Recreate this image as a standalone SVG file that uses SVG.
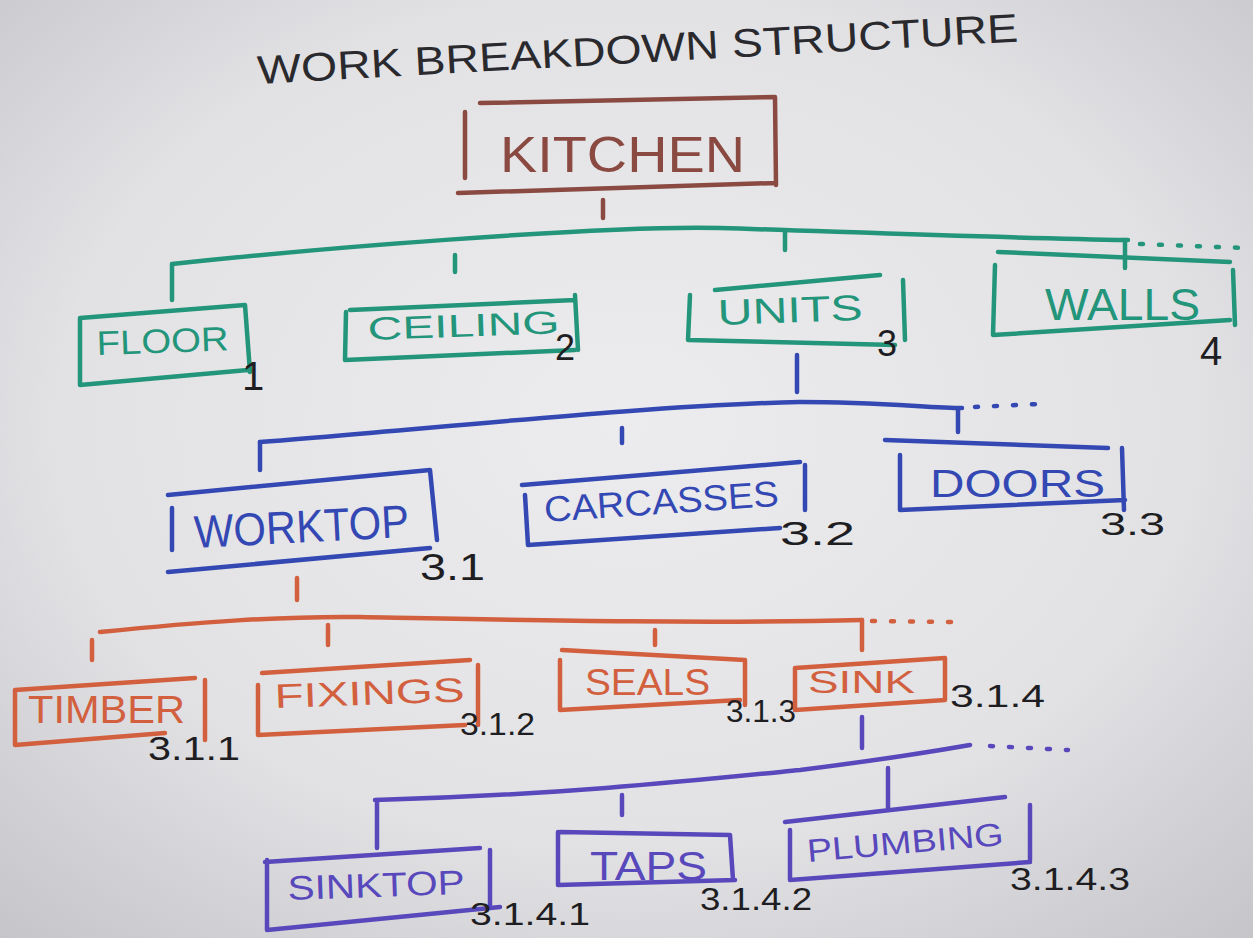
<svg xmlns="http://www.w3.org/2000/svg" width="1253" height="938" viewBox="0 0 1253 938">
<defs>
<radialGradient id="bg" cx="50%" cy="45%" r="75%">
<stop offset="0" stop-color="#ececee"/>
<stop offset="0.6" stop-color="#e2e2e5"/>
<stop offset="1" stop-color="#c4c4c9"/>
</radialGradient>
<style>
.s{fill:none;stroke-width:4.5;stroke-linecap:round;stroke-linejoin:round}
.k{stroke:#8a4a42}.g{stroke:#23957a}.b{stroke:#3448b4}.o{stroke:#d2603e}.p{stroke:#5848bc}
.dot{stroke-dasharray:3 16}
.t{font-family:"Liberation Sans","DejaVu Sans",sans-serif}
.tk{fill:#8a4a42}.tg{fill:#23957a}.tb{fill:#3448b4}.to{fill:#d2603e}.tp{fill:#5848bc}
.n{fill:#1e1e22;font-family:"Liberation Sans","DejaVu Sans",sans-serif}
</style>
</defs>
<rect width="1253" height="938" fill="url(#bg)"/>
<text class="t" fill="#2a2a2e" font-size="40" x="258" y="84" textLength="762" lengthAdjust="spacingAndGlyphs" transform="rotate(-3.2 258 84)">WORK BREAKDOWN STRUCTURE</text>

<g id="connectors">
<path class="s k" d="M603 200 L603 218"/>
<path class="s g" d="M172 264 C300 250 600 225 720 228 C850 232 1000 238 1128 240"/>
<path class="s g dot" d="M1140 244 L1245 248"/>
<path class="s g" d="M172 265 L172 300 M455 255 L455 272 M785 232 L785 250 M1125 240 L1125 268"/>
<path class="s b" d="M797 355 L797 392"/>
<path class="s b" d="M260 442 C420 430 650 405 800 402 C880 402 930 408 962 408"/>
<path class="s b dot" d="M975 407 L1040 404"/>
<path class="s b" d="M260 442 L260 470 M622 428 L622 443 M958 410 L958 432"/>
<path class="s o" d="M297 578 L297 600"/>
<path class="s o" d="M100 632 C200 622 280 616 360 617 C520 620 700 624 862 620"/>
<path class="s o dot" d="M872 621 L955 622"/>
<path class="s o" d="M92 640 L92 660 M328 625 L328 645 M655 630 L655 645 M862 620 L862 650"/>
<path class="s p" d="M862 717 L862 748"/>
<path class="s p" d="M375 800 C560 795 700 780 800 770 C880 760 930 752 970 745"/>
<path class="s p dot" d="M990 746 L1068 750"/>
<path class="s p" d="M377 800 L377 848 M622 795 L622 815 M888 768 L888 808"/>
</g>

<g id="kitchen">
<path class="s k" d="M480 103 L775 97 L776 185 M465 112 L465 178 M458 193 L775 183"/>
<text class="t tk" font-size="50" x="500" y="172" textLength="245" lengthAdjust="spacingAndGlyphs">KITCHEN</text>
</g>

<g id="floor">
<path class="s g" d="M80 318 L245 305 L250 372 M80 318 L80 385 L248 370"/>
<text class="t tg" font-size="34" x="97" y="355" textLength="132" lengthAdjust="spacingAndGlyphs" transform="rotate(-2 97 355)">FLOOR</text>
<text class="n" font-size="40" x="242" y="390">1</text>
</g>

<g id="ceiling">
<path class="s g" d="M350 310 L575 300 M575 295 L578 350 M346 312 L345 360 L575 350"/>
<text class="t tg" font-size="32" x="368" y="340" textLength="192" lengthAdjust="spacingAndGlyphs" transform="rotate(-2 368 340)">CEILING</text>
<text class="n" font-size="36" x="555" y="360">2</text>
</g>

<g id="units">
<path class="s g" d="M715 290 L880 275 M903 280 L905 340 M690 295 L688 340 L895 345"/>
<text class="t tg" font-size="36" x="718" y="325" textLength="145" lengthAdjust="spacingAndGlyphs" transform="rotate(-2 718 325)">UNITS</text>
<text class="n" font-size="36" x="877" y="356">3</text>
</g>

<g id="walls">
<path class="s g" d="M998 252 L1230 262 M1233 270 L1235 325 M995 265 L993 335 L1230 320"/>
<text class="t tg" font-size="44" x="1045" y="320" textLength="155" lengthAdjust="spacingAndGlyphs">WALLS</text>
<text class="n" font-size="40" x="1200" y="365">4</text>
</g>

<g id="worktop">
<path class="s b" d="M168 495 L430 470 L437 540 M172 508 L172 550 M168 572 L430 548"/>
<text class="t tb" font-size="46" x="195" y="548" textLength="215" lengthAdjust="spacingAndGlyphs" transform="rotate(-3 195 548)">WORKTOP</text>
<text class="n" font-size="36" x="420" y="580" textLength="65" lengthAdjust="spacingAndGlyphs">3.1</text>
</g>

<g id="carcasses">
<path class="s b" d="M522 485 L800 462 M805 465 L805 510 M525 495 L528 545 L780 528"/>
<text class="t tb" font-size="36" x="545" y="522" textLength="235" lengthAdjust="spacingAndGlyphs" transform="rotate(-4 545 522)">CARCASSES</text>
<text class="n" font-size="34" x="780" y="545" textLength="75" lengthAdjust="spacingAndGlyphs">3.2</text>
</g>

<g id="doors">
<path class="s b" d="M885 440 L1108 448 M1122 448 L1124 510 M900 455 L900 510 L1125 500"/>
<text class="t tb" font-size="38" x="930" y="497" textLength="175" lengthAdjust="spacingAndGlyphs">DOORS</text>
<text class="n" font-size="32" x="1100" y="535" textLength="65" lengthAdjust="spacingAndGlyphs">3.3</text>
</g>

<g id="timber">
<path class="s o" d="M15 690 L195 678 M205 680 L205 740 M15 690 L15 745 L165 733"/>
<text class="t to" font-size="38" x="28" y="723" textLength="157" lengthAdjust="spacingAndGlyphs">TIMBER</text>
<text class="n" font-size="34" x="148" y="760" textLength="92" lengthAdjust="spacingAndGlyphs">3.1.1</text>
</g>

<g id="fixings">
<path class="s o" d="M262 673 L470 660 M478 665 L478 725 M258 685 L258 735 L465 725"/>
<text class="t to" font-size="34" x="275" y="708" textLength="190" lengthAdjust="spacingAndGlyphs" transform="rotate(-2 275 708)">FIXINGS</text>
<text class="n" font-size="32" x="460" y="735" textLength="75" lengthAdjust="spacingAndGlyphs">3.1.2</text>
</g>

<g id="seals">
<path class="s o" d="M562 650 L745 660 L745 705 M560 660 L560 710 L740 700"/>
<text class="t to" font-size="36" x="585" y="695" textLength="125" lengthAdjust="spacingAndGlyphs">SEALS</text>
<text class="n" font-size="32" x="726" y="722" textLength="70" lengthAdjust="spacingAndGlyphs">3.1.3</text>
</g>

<g id="sink">
<path class="s o" d="M795 668 L945 658 L945 700 M795 668 L795 710 L945 700"/>
<text class="t to" font-size="32" x="808" y="693" textLength="107" lengthAdjust="spacingAndGlyphs">SINK</text>
<text class="n" font-size="32" x="950" y="707" textLength="95" lengthAdjust="spacingAndGlyphs">3.1.4</text>
</g>

<g id="sinktop">
<path class="s p" d="M265 862 L480 848 M490 850 L490 905 M267 860 L267 930 L500 907"/>
<text class="t tp" font-size="34" x="288" y="900" textLength="177" lengthAdjust="spacingAndGlyphs" transform="rotate(-2 288 900)">SINKTOP</text>
<text class="n" font-size="32" x="470" y="925" textLength="120" lengthAdjust="spacingAndGlyphs">3.1.4.1</text>
</g>

<g id="taps">
<path class="s p" d="M560 832 L730 835 L733 880 M558 832 L558 885 L735 880"/>
<text class="t tp" font-size="40" x="590" y="880" textLength="117" lengthAdjust="spacingAndGlyphs">TAPS</text>
<text class="n" font-size="32" x="700" y="910" textLength="112" lengthAdjust="spacingAndGlyphs">3.1.4.2</text>
</g>

<g id="plumbing">
<path class="s p" d="M785 822 L1005 797 M1030 805 L1030 860 M790 830 L790 880 L1030 862"/>
<text class="t tp" font-size="32" x="808" y="862" textLength="197" lengthAdjust="spacingAndGlyphs" transform="rotate(-5 808 862)">PLUMBING</text>
<text class="n" font-size="32" x="1010" y="890" textLength="120" lengthAdjust="spacingAndGlyphs">3.1.4.3</text>
</g>
</svg>
